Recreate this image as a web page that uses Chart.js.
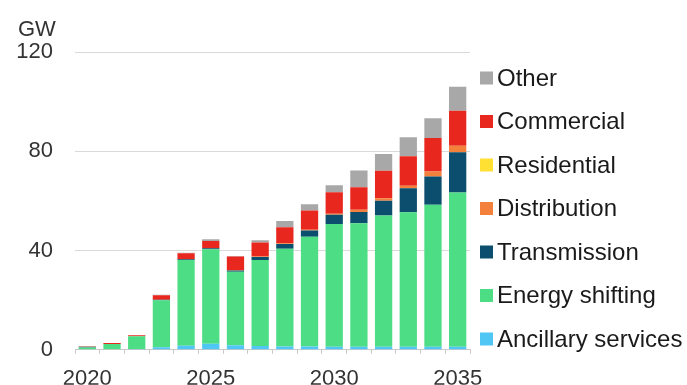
<!DOCTYPE html>
<html>
<head>
<meta charset="utf-8">
<script src="https://cdn.jsdelivr.net/npm/chart.js@4.4.1/dist/chart.umd.min.js"></script>
<style>
  body { margin: 0; background: #fff; }
  #wrap { position: relative; width: 687px; height: 385px; }
</style>
</head>
<body>
<div id="wrap"><canvas id="myChart" width="687" height="385"></canvas></div>
<script>
// Datos (GW)
const years = ['2020','2021','2022','2023','2024','2025','2026','2027','2028','2029','2030','2031','2032','2033','2034','2035'];
const ancillary    = [0.2, 0.2, 0.3, 1.0, 1.6, 2.4, 1.8, 1.5, 1.3, 1.3, 1.2, 1.2, 1.2, 1.2, 1.2, 1.2];
const energyShift  = [0.7, 2.1, 5.2, 19.0, 34.6, 38.1, 29.7, 34.7, 39.4, 44.3, 49.5, 49.8, 52.9, 54.2, 57.2, 62.2];
const transmission = [0.2, 0, 0, 0.2, 0.3, 0.4, 0.5, 1.2, 1.9, 2.5, 3.7, 4.5, 6.0, 9.7, 11.4, 16.2];
const distribution = [0, 0, 0, 0, 0, 0, 0.2, 0.2, 0.3, 0.3, 0.4, 0.9, 1.0, 1.0, 2.0, 2.6];
const residential  = [0, 0, 0, 0, 0, 0, 0, 0, 0, 0, 0, 0, 0, 0, 0, 0];
const commercial   = [0.1, 0.4, 0.4, 1.8, 2.4, 2.9, 5.4, 5.6, 6.5, 7.7, 8.7, 9.1, 11.0, 11.9, 13.5, 14.1];
const other        = [0.3, 0, 0, 0.2, 0.2, 0.7, 0.2, 0.9, 2.5, 2.6, 2.8, 6.7, 6.8, 7.6, 8.0, 9.7];
const yTicks = [0, 40, 80, 120];

const series = [
    { label: 'Ancillary services', data: ancillary, color: '#4fc6f4' },
    { label: 'Energy shifting', data: energyShift, color: '#4ddd85' },
    { label: 'Transmission', data: transmission, color: '#0b4e6d' },
    { label: 'Distribution', data: distribution, color: '#f3803b' },
    { label: 'Residential', data: residential, color: '#ffe033' },
    { label: 'Commercial', data: commercial, color: '#e8281f' },
    { label: 'Other', data: other, color: '#a8a8a8' }
];

const FONT = '"Liberation Sans", Arial, sans-serif';

// Texto "GW" y leyenda a la derecha
const extraText = {
    id: 'extraText',
    afterDraw(chart) {
        const ctx = chart.ctx;
        ctx.save();
        ctx.font = '22px ' + FONT;
        ctx.fillStyle = '#333';
        ctx.textBaseline = 'alphabetic';
        ctx.fillText('GW', 18, 36);

        ctx.font = '24px ' + FONT;
        const list = chart.data.datasets.slice().reverse();
        list.forEach((ds, k) => {
            const y = 78 + k * 43.5;
            ctx.fillStyle = ds.backgroundColor;
            ctx.fillRect(480, y - 6.5, 13, 13);
            ctx.fillStyle = '#1a1a1a';
            ctx.textBaseline = 'middle';
            ctx.fillText(ds.label, 497, y + 1);
        });
        ctx.restore();
    }
};

const ctx = document.getElementById('myChart').getContext('2d');
const myChart = new Chart(ctx, {
    type: 'bar',
    data: {
        labels: years,
        datasets: series.map(s => ({
            label: s.label,
            data: s.data,
            backgroundColor: s.color,
            borderWidth: 0,
            barPercentage: 0.7,
            categoryPercentage: 1
        }))
    },
    options: {
        responsive: false,
        animation: false,
        layout: { padding: { left: 0, right: 217, top: 52, bottom: 0 } },
        plugins: { legend: { display: false }, tooltip: { enabled: false } },
        scales: {
            x: {
                stacked: true,
                afterFit: scale => { scale.height = 35; },
                border: { color: '#c8c8c8' },
                grid: { drawOnChartArea: false, color: '#c8c8c8', tickLength: 4 },
                ticks: {
                    autoSkip: false,
                    maxRotation: 0,
                    padding: 12,
                    color: '#333',
                    font: { family: FONT, size: 22 },
                    callback: function (val, i) {
                        const y = years[i];
                        return Number(y) % 5 === 0 ? y : '';
                    }
                }
            },
            y: {
                stacked: true,
                min: 0,
                max: 120,
                afterFit: scale => { scale.width = 75; },
                afterBuildTicks: scale => { scale.ticks = yTicks.map(v => ({ value: v })); },
                border: { display: false },
                grid: { color: '#d9d9d9', drawTicks: false },
                ticks: {
                    padding: 22,
                    color: '#333',
                    font: { family: FONT, size: 22 }
                }
            }
        }
    },
    plugins: [extraText]
});
</script>
</body>
</html>
